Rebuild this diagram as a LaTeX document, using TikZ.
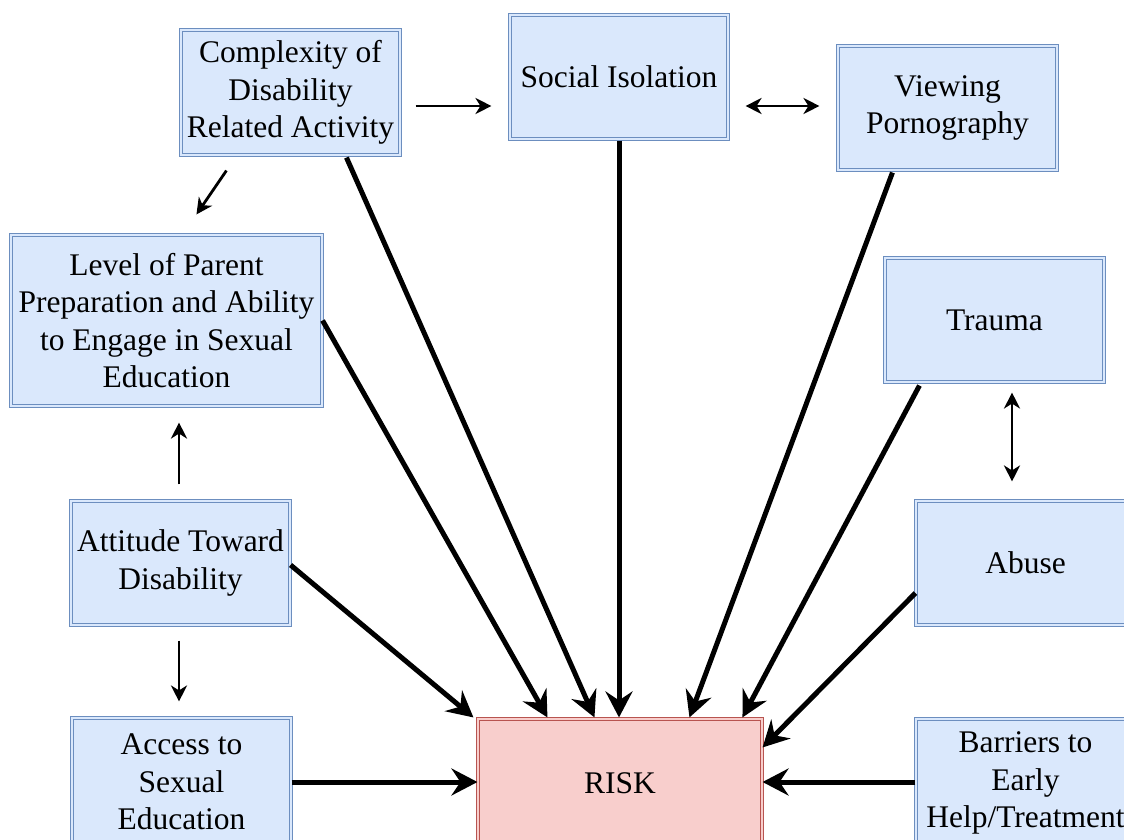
\documentclass[tikz,border=0pt]{standalone}
\usepackage{fontspec}
\setmainfont{Liberation Serif}
\usetikzlibrary{arrows.meta,calc}
\definecolor{bfill}{HTML}{DAE8FC}
\definecolor{bline}{HTML}{6C8EBF}
\definecolor{rfill}{HTML}{F8CECC}
\definecolor{rline}{HTML}{B85450}
\tikzset{
  box/.style={rectangle, draw=bline, double=bfill, double distance=2.5pt, line width=1.1pt, fill=bfill,
    align=center, inner sep=2pt, font=\fontsize{31.5}{37.5}\selectfont, text=black},
  riskbox/.style={box, draw=rline, double=rfill, fill=rfill},
  big/.style={line width=5pt, -{Stealth[length=26pt,width=27pt,inset=9pt]}},
  small/.style={line width=2.8pt, -{Stealth[length=16pt,width=16pt,inset=5pt]}},
  smallboth/.style={line width=2.8pt, {Stealth[length=16pt,width=16pt,inset=5pt]}-{Stealth[length=16pt,width=16pt,inset=5pt]}}
}
\begin{document}
\begin{tikzpicture}[x=1pt,y=-1pt]
\useasboundingbox (0,0) rectangle (1124,840);
\clip (0,0) rectangle (1124,840);
\node[box, minimum width=219pt, minimum height=125pt] (comp) at (290.5,92.5) {Complexity of\\Disability\\Related Activity};
\node[box, minimum width=218pt, minimum height=124pt] (soc) at (619,77) {Social Isolation};
\node[box, minimum width=219pt, minimum height=124pt] (view) at (947.5,108) {Viewing\\Pornography};
\node[box, minimum width=311pt, minimum height=171pt] (level) at (166.5,320.5) {Level of Parent\\Preparation and Ability\\to Engage in Sexual\\Education};
\node[box, minimum width=219pt, minimum height=124pt] (trauma) at (994.5,320) {Trauma};
\node[box, minimum width=219pt, minimum height=124pt] (att) at (180.5,563) {Attitude Toward\\Disability};
\node[box, minimum width=219pt, minimum height=124pt] (abuse) at (1025.5,563) {Abuse};
\node[box, minimum width=219pt, minimum height=128pt] (access) at (181.5,782) {Access to\\Sexual\\Education};
\node[riskbox, minimum width=284pt, minimum height=128pt] (risk) at (620,783) {RISK};
\node[box, minimum width=219pt, minimum height=128pt] (barr) at (1025.5,783) {Barriers to\\Early\\Help/Treatment};

% main arrows to RISK
\draw[big] ($(comp.south west)+(166,2)$) -- ($(risk.north west)+(117,-1)$);
\draw[big] ($(soc.south)+(0,1)$) -- ($(risk.north)+(-1,-1)$);
\draw[big] ($(view.south west)+(55,2)$) -- ($(risk.north west)+(212,-1)$);
\draw[big] ($(level.east)+(0,0)$) -- ($(risk.north west)+(70,-1)$);
\draw[big] ($(trauma.south west)+(35,3)$) -- ($(risk.north west)+(265,-1)$);
\draw[big] ($(att.east)+(0,2)$) -- ($(risk.north west)+(-4,-1)$);
\draw[big] ($(abuse.west)+(0,30)$) -- ($(risk.north east)+(0,29)$);
\draw[big] (access.east) -- (access.east -| risk.west);
\draw[big] ($(barr.west)+(0,-1)$) -- ($(barr.west -| risk.east)+(0,-1)$);

% small arrows
\draw[small] ($(comp.east)+(15,13.5)$) -- ($(soc.west)+(-18,29)$);
\draw[smallboth] ($(soc.east)+(17,29)$) -- ($(view.west)+(-18,-2)$);
\draw[small] ($(comp.south west)+(46,15)$) -- ($(level.north west)+(186,-20)$);
\draw[small] ($(att.north)+(-1.5,-16)$) -- ($(level.south)+(12.5,16)$);
\draw[small] ($(att.south)+(-1.5,15)$) -- ($(access.north)+(-2.5,-16)$);
\draw[smallboth] ($(trauma.south)+(17.5,10)$) -- ($(abuse.north)+(-13.5,-19)$);
\end{tikzpicture}
\end{document}
